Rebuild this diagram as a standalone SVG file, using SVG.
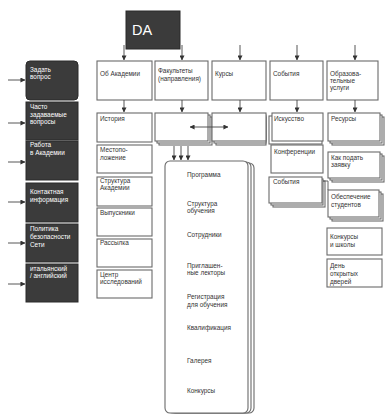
<svg xmlns="http://www.w3.org/2000/svg" width="386" height="417" viewBox="0 0 386 417">
<defs>
<marker id="ah" viewBox="0 0 6 6" refX="5.5" refY="3" markerWidth="5" markerHeight="5" orient="auto-start-reverse" markerUnits="userSpaceOnUse">
<path d="M0,0 L6,3 L0,6 z" fill="#333"/>
</marker>
<style>
.dk{fill:#3b3b3b;stroke:#2a2a2a;stroke-width:1}
.bx{fill:#fff;stroke:#6a6a6a;stroke-width:1.1}
.wt{fill:#fff;font-family:"Liberation Sans",Arial,sans-serif;font-size:6.4px}
.t{fill:#333;font-family:"Liberation Sans",Arial,sans-serif;font-size:6.4px}
.c{stroke:#444;stroke-width:0.9;fill:none;marker-end:url(#ah)}
</style>
</defs>
<rect width="386" height="417" fill="#fff"/>

<g id="da"><rect class="dk" x="126" y="11" width="54" height="38"/><text x="132" y="35" fill="#fff" font-family="Liberation Sans,Arial,sans-serif" font-size="14.5">DA</text></g>

<g id="left-menu">
<g id="zadat"><rect class="dk" x="26" y="61" width="52" height="39" rx="4"/><text class="wt" x="30" y="72">Задать</text><text class="wt" x="30" y="79">вопрос</text></g>
<g id="faq"><rect class="dk" x="26" y="102" width="52" height="38"/><text class="wt" x="30" y="109">Часто</text><text class="wt" x="30" y="117">задаваемые</text><text class="wt" x="30" y="124">вопросы</text></g>
<g id="rabota"><rect class="dk" x="26" y="141" width="52" height="39"/><text class="wt" x="30" y="147">Работа</text><text class="wt" x="30" y="155">в Академии</text></g>
<g id="kontakt"><rect class="dk" x="26" y="183" width="52" height="39"/><text class="wt" x="30" y="194">Контактная</text><text class="wt" x="30" y="202">информация</text></g>
<g id="politika"><rect class="dk" x="26" y="224" width="52" height="38"/><text class="wt" x="30" y="231">Политика</text><text class="wt" x="30" y="239">безопасности</text><text class="wt" x="30" y="247">Сети</text></g>
<g id="lang"><rect class="dk" x="26" y="264" width="52" height="38"/><text class="wt" x="30" y="271">итальянский</text><text class="wt" x="30" y="278">/ английский</text></g>
</g>

<g id="top-row">
<g id="ob-akademii"><rect class="bx" x="97" y="61" width="55" height="39"/><text class="t" x="100" y="76">Об Академии</text></g>
<g id="fakultety"><rect class="bx" x="155" y="61" width="53" height="39"/><text class="t" x="158" y="73">Факультеты</text><text class="t" x="158" y="81">(направления)</text></g>
<g id="kursy"><rect class="bx" x="212" y="61" width="54" height="39"/><text class="t" x="215" y="76">Курсы</text></g>
<g id="sobytiya"><rect class="bx" x="270" y="61" width="53" height="39"/><text class="t" x="273" y="76">События</text></g>
<g id="obraz"><rect class="bx" x="327" y="61" width="51" height="39"/><text class="t" x="330" y="76">Образова-</text><text class="t" x="330" y="83">тельные</text><text class="t" x="330" y="90">услуги</text></g>
</g>

<g id="col-akademiya">
<g id="istoriya"><rect class="bx" x="97" y="113" width="55" height="29"/><text class="t" x="100" y="121">История</text></g>
<g id="mesto"><rect class="bx" x="97" y="145" width="55" height="28"/><text class="t" x="100" y="152">Местопо-</text><text class="t" x="100" y="160">ложение</text></g>
<g id="struktura"><rect class="bx" x="97" y="177" width="55" height="29"/><text class="t" x="100" y="183">Структура</text><text class="t" x="100" y="190">Академии</text></g>
<g id="vypuskniki"><rect class="bx" x="97" y="208" width="55" height="28"/><text class="t" x="100" y="215">Выпускники</text></g>
<g id="rassylka"><rect class="bx" x="97" y="239" width="55" height="28"/><text class="t" x="100" y="245">Рассылка</text></g>
<g id="centr"><rect class="bx" x="97" y="270" width="55" height="28"/><text class="t" x="100" y="277">Центр</text><text class="t" x="100" y="284">исследований</text></g>
</g>

<g id="fak-stack"><rect class="bx" x="159" y="117" width="53" height="28"/><rect class="bx" x="157" y="115" width="53" height="28"/><rect class="bx" x="155" y="113" width="53" height="28"/></g>
<g id="kursy-stack"><rect class="bx" x="216" y="117" width="50" height="28"/><rect class="bx" x="214" y="115" width="52" height="28"/><rect class="bx" x="212" y="113" width="54" height="28"/></g>

<g id="programma-list">
<rect class="bx" x="171" y="163" width="83" height="250" rx="5"/>
<rect class="bx" x="168" y="162" width="83" height="251" rx="5"/>
<rect class="bx" x="165" y="161" width="83" height="252" rx="5"/>
<text class="t" x="187" y="177">Программа</text>
<text class="t" x="187" y="206">Структура</text><text class="t" x="187" y="213">обучения</text>
<text class="t" x="187" y="237">Сотрудники</text>
<text class="t" x="187" y="268">Приглашен-</text><text class="t" x="187" y="275">ные лекторы</text>
<text class="t" x="187" y="299">Регистрация</text><text class="t" x="187" y="307">для обучения</text>
<text class="t" x="187" y="330">Квалификация</text>
<text class="t" x="187" y="363">Галерея</text>
<text class="t" x="187" y="393">Конкурсы</text>
</g>

<g id="col-sobytiya">
<g id="iskusstvo"><rect class="bx" x="269" y="116" width="53" height="28"/><rect class="bx" x="272" y="113" width="51" height="28"/><text class="t" x="274" y="121">Искусство</text></g>
<g id="konferencii"><rect class="bx" x="271" y="145" width="52" height="28"/><text class="t" x="274" y="154">Конференции</text></g>
<g id="sobytiya2"><rect class="bx" x="273" y="181" width="52" height="26"/><rect class="bx" x="271" y="179" width="52" height="26"/><rect class="bx" x="269" y="177" width="53" height="26"/><text class="t" x="273" y="184">События</text></g>
</g>

<g id="col-obraz">
<g id="resursy"><rect class="bx" x="332" y="117" width="52" height="28"/><rect class="bx" x="330" y="115" width="52" height="28"/><rect class="bx" x="328" y="113" width="52" height="28"/><text class="t" x="331" y="121">Ресурсы</text></g>
<g id="kak-podat"><rect class="bx" x="332" y="156" width="52" height="26"/><rect class="bx" x="330" y="154" width="52" height="26"/><rect class="bx" x="328" y="152" width="52" height="26"/><text class="t" x="331" y="160">Как подать</text><text class="t" x="331" y="167">заявку</text></g>
<g id="obespechenie"><rect class="bx" x="332" y="194" width="51" height="27"/><rect class="bx" x="330" y="192" width="51" height="27"/><rect class="bx" x="328" y="190" width="51" height="27"/><text class="t" x="331" y="199">Обеспечение</text><text class="t" x="331" y="207">студентов</text></g>
<g id="konkursy-shkoly"><rect class="bx" x="327" y="228" width="55" height="27"/><text class="t" x="330" y="239">Конкурсы</text><text class="t" x="330" y="247">и школы</text></g>
<g id="den"><rect class="bx" x="327" y="259" width="55" height="28"/><text class="t" x="330" y="268">День</text><text class="t" x="330" y="276">открытых</text><text class="t" x="330" y="284">дверей</text></g>
</g>

<g id="connectors">
<path class="c" d="M8,80 H25"/>
<path class="c" d="M8,123 H25"/>
<path class="c" d="M8,162 H25"/>
<path class="c" d="M8,202 H25"/>
<path class="c" d="M8,243 H25"/>
<path class="c" d="M8,284 H25"/>
<path class="c" d="M124,45 V60"/>
<path class="c" d="M182,45 V60"/>
<path class="c" d="M240,45 V60"/>
<path class="c" d="M297,45 V60"/>
<path class="c" d="M355,45 V60"/>
<path class="c" d="M124,100 V112"/>
<path class="c" d="M182,100 V112"/>
<path class="c" d="M240,100 V112"/>
<path class="c" d="M297,100 V112"/>
<path class="c" d="M355,100 V112"/>
<path class="c" d="M190,127 H228" marker-start="url(#ah)"/>
<path class="c" d="M174,146 V160"/>
<path class="c" d="M181,146 V160"/>
<path class="c" d="M188,146 V160"/>
<path d="M323,181 H328 V190" stroke="#555" stroke-width="0.9" fill="none"/>
</g>
</svg>
